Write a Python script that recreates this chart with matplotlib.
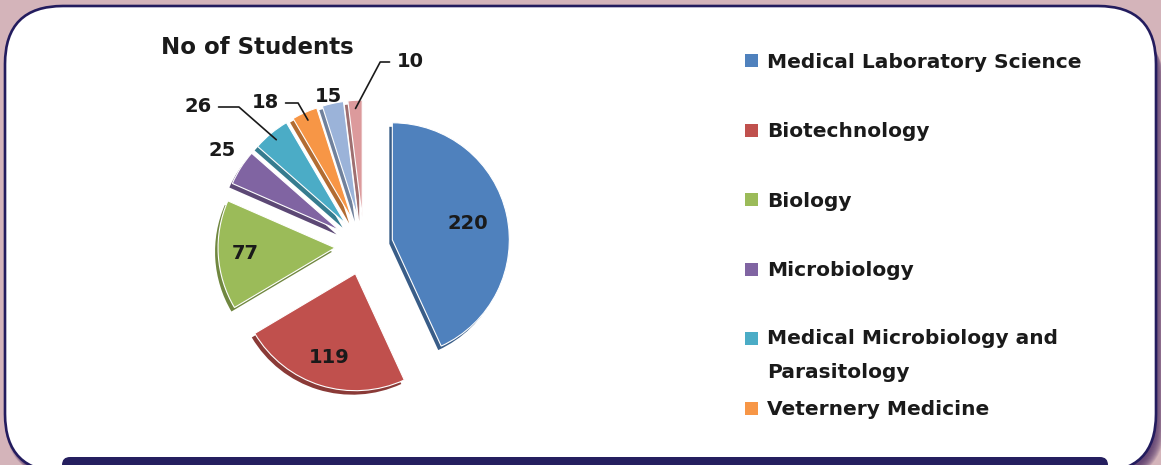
import numpy as np
import matplotlib.pyplot as plt
from matplotlib.patches import FancyBboxPatch, Rectangle
from matplotlib.colors import to_rgb

plt.rcParams['font.family'] = ['DejaVu Sans']

# data (the last two slices have no visible legend entry, the legend is cut off)
courses = ['Medical Laboratory Science', 'Biotechnology', 'Biology', 'Microbiology',
           'Medical Microbiology and\nParasitology', 'Veternery Medicine']
students = [220, 119, 77, 25, 26, 18, 15, 10]
colors = ['#4f81bd', '#c0504d', '#9bbb59', '#8064a2', '#4bacc6', '#f79646', '#9bb3d9', '#dc9a9c']

W, H = 1161, 465
fig = plt.figure(figsize=(W / 100, H / 100), dpi=100)
fig.patch.set_facecolor('#d4b4ba')
ax = fig.add_axes([0, 0, 1, 1])

# purple shadow on the right, white card with navy border
for i in range(12):
    ax.add_patch(FancyBboxPatch((5 + i * 0.8, -12 - i * 0.3), 1151, 466 - i * 1.5,
                                boxstyle='round,pad=0,rounding_size=58',
                                facecolor='#4e2f66', edgecolor='none', alpha=0.12, zorder=1))
ax.add_patch(FancyBboxPatch((5, -7), 1151, 466, boxstyle='round,pad=0,rounding_size=58',
                            facecolor='white', edgecolor='#231c5e', linewidth=1.9, zorder=2))
ax.add_patch(FancyBboxPatch((62, -12), 1046, 20, boxstyle='round,pad=0,rounding_size=8',
                            facecolor='#251f5f', edgecolor='none', zorder=3))

# pie
cx, cy = 364, H - 246
R = 117
explode = [29] * len(students)
shade = [tuple(0.72 * np.array(to_rgb(c))) for c in colors]
ax.pie(students, colors=shade, startangle=90, counterclock=False, center=(cx - 3, cy - 4),
       radius=R, explode=explode, wedgeprops=dict(linewidth=0, zorder=4))
wedges, _ = ax.pie(students, colors=colors, startangle=90, counterclock=False, center=(cx, cy),
                   radius=R, explode=explode,
                   wedgeprops=dict(linewidth=0.8, edgecolor='white', zorder=5))

txt = dict(fontsize=14, fontweight='bold', color='#1a1a1a', zorder=8)

# labels inside the three big slices
inside_dist = [0.66, 0.75, 0.77]
for w, v, d in zip(wedges[:3], students[:3], inside_dist):
    th = np.deg2rad((w.theta1 + w.theta2) / 2)
    x0, y0 = w.center
    ax.text(x0 + d * R * np.cos(th), y0 + d * R * np.sin(th), str(v),
            ha='center', va='center', **txt)

# labels outside the small slices (image pixel positions), some with leader lines
out_pos = [(222, 150), (198, 107), (265, 103), (328, 97), (410, 62)]
leader = [None, 138.8, 120, None, 62]
for w, v, (px, py), ang in zip(wedges[3:], students[3:], out_pos, leader):
    tx, ty = px, H - py
    if ang is None:
        ax.text(tx, ty, str(v), ha='center', va='center', **txt)
        continue
    th = np.deg2rad((w.theta1 + w.theta2) / 2)
    x0, y0 = w.center
    r = 0.93 * R
    ax.annotate(str(v), xy=(x0 + r * np.cos(th), y0 + r * np.sin(th)), xytext=(tx, ty),
                ha='center', va='center',
                arrowprops=dict(arrowstyle='-', color='#1a1a1a', lw=1.2, shrinkA=3, shrinkB=0,
                                connectionstyle='angle,angleA=0,angleB=%s,rad=0' % ang),
                **txt)

ax.text(257, H - 48, 'No of Students', ha='center', va='center',
        **{**txt, 'fontsize': 16.5})

# legend (drawn by hand to mimic the spacing)
leg_y0, leg_step = 61, 69.4
line_gap = 32
for i, (name, c) in enumerate(zip(courses, colors)):
    y = H - (leg_y0 + i * leg_step)
    nl = name.count('\n')
    ax.add_patch(Rectangle((745, y - 6.5), 13, 13, facecolor=c, edgecolor='none', zorder=6))
    ax.text(767, y - 7 - nl * line_gap, name, ha='left', va='baseline',
            fontsize=14.5, fontweight='bold', color='#1a1a1a', linespacing=2.0, zorder=8)

ax.set_xlim(0, W)
ax.set_ylim(0, H)
ax.set_aspect('auto')
ax.axis('off')

fig.savefig('out.png', dpi=100, facecolor=fig.get_facecolor())
